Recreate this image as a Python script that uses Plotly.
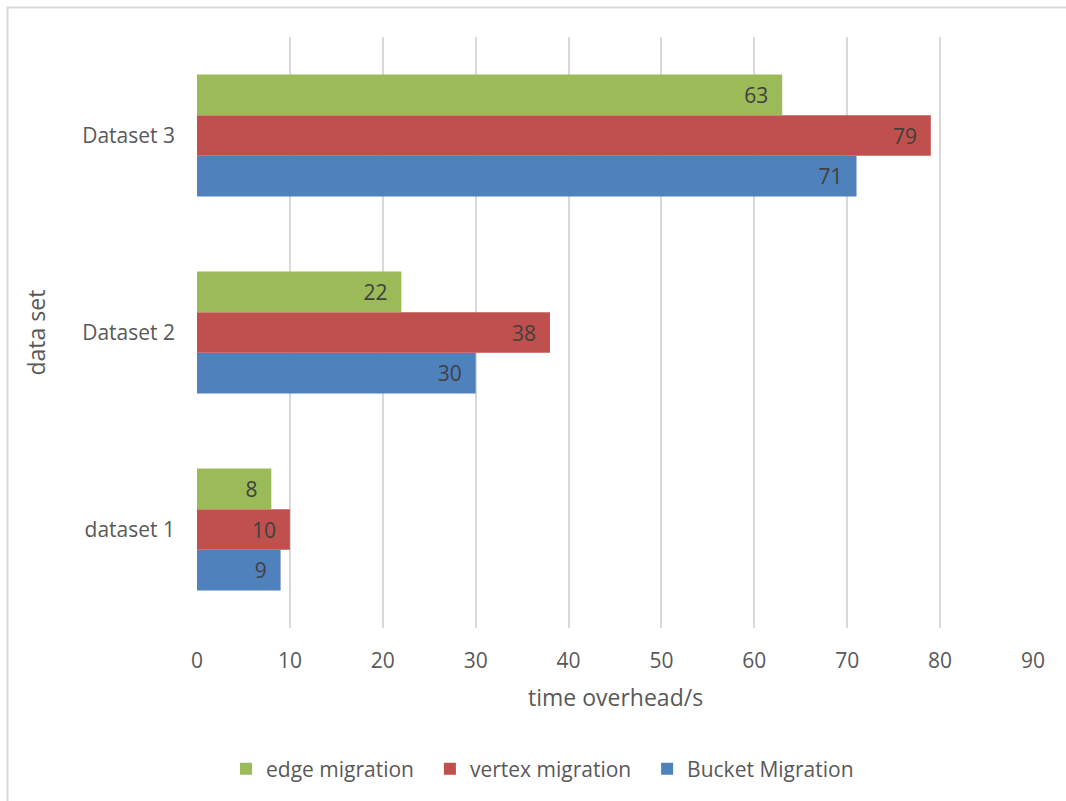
import plotly.graph_objects as go

# Data: time overhead (s) per data set and migration strategy
categories = ["dataset 1", "Dataset 2", "Dataset 3"]
bucket_migration = [9, 30, 71]
vertex_migration = [10, 38, 79]
edge_migration = [8, 22, 63]

FONT = "Open Sans"
TICK_COLOR = "#595959"
LABEL_COLOR = "#404040"
GRID = "#D9D9D9"

series = [
    ("Bucket Migration", bucket_migration, "#4F81BD"),
    ("vertex migration", vertex_migration, "#C0504D"),
    ("edge migration", edge_migration, "#9BBB59"),
]

fig = go.Figure()
for name, vals, color in series:
    fig.add_trace(go.Bar(
        y=categories,
        x=vals,
        name=name + "\u00a0\u00a0",  # extra room between legend entries
        orientation="h",
        marker=dict(color=color, line=dict(width=0)),
        text=vals,
        texttemplate="%{x}\u00a0\u00a0",
        textposition="inside",
        insidetextanchor="end",
        textfont=dict(family=FONT, size=21, color=LABEL_COLOR),
        cliponaxis=False,
    ))

# plot area geometry in pixels (for placing the frame and titles in paper units)
W, H = 1066, 801
L, R, T, B = 197, 33, 37, 173
pw, ph = W - L - R, H - T - B


def px_x(x):
    return (x - L) / pw


def px_y(y):
    return 1 - (y - T) / ph


fig.update_layout(
    width=W,
    height=H,
    margin=dict(l=L, r=R, t=T, b=B),
    paper_bgcolor="white",
    plot_bgcolor="white",
    barmode="group",
    bargap=0.38,
    bargroupgap=0,
    font=dict(family=FONT, color=TICK_COLOR),
    xaxis=dict(
        range=[0, 90],
        dtick=10,
        showgrid=True,
        gridcolor=GRID,
        gridwidth=2,
        zeroline=False,
        showline=False,
        ticks="",
        tickfont=dict(family=FONT, size=21, color=TICK_COLOR),
        ticklabelstandoff=18,
    ),
    yaxis=dict(
        showgrid=False,
        zeroline=False,
        showline=False,
        ticks="",
        tickfont=dict(family=FONT, size=21, color=TICK_COLOR),
        ticklabelstandoff=21,
    ),
    showlegend=True,
    legend=dict(
        orientation="h",
        traceorder="reversed",
        x=px_x(548),
        xanchor="center",
        y=px_y(769),
        yanchor="middle",
        font=dict(family=FONT, size=21, color=TICK_COLOR),
        itemwidth=30,
    ),
    annotations=[
        dict(text="time overhead/s", x=0.5, y=px_y(697), xref="paper", yref="paper",
             showarrow=False, xanchor="center", yanchor="middle",
             font=dict(family=FONT, size=23, color=TICK_COLOR)),
        dict(text="data set", x=px_x(35), y=0.5, xref="paper", yref="paper",
             showarrow=False, xanchor="center", yanchor="middle", textangle=-90,
             font=dict(family=FONT, size=23, color=TICK_COLOR)),
    ],
    shapes=[
        dict(type="rect", xref="paper", yref="paper",
             x0=px_x(7.5), x1=px_x(W + 10), y0=px_y(H + 10), y1=px_y(7.5),
             line=dict(color=GRID, width=2), fillcolor="rgba(0,0,0,0)", layer="below"),
    ],
)

fig.write_html("out.html")
